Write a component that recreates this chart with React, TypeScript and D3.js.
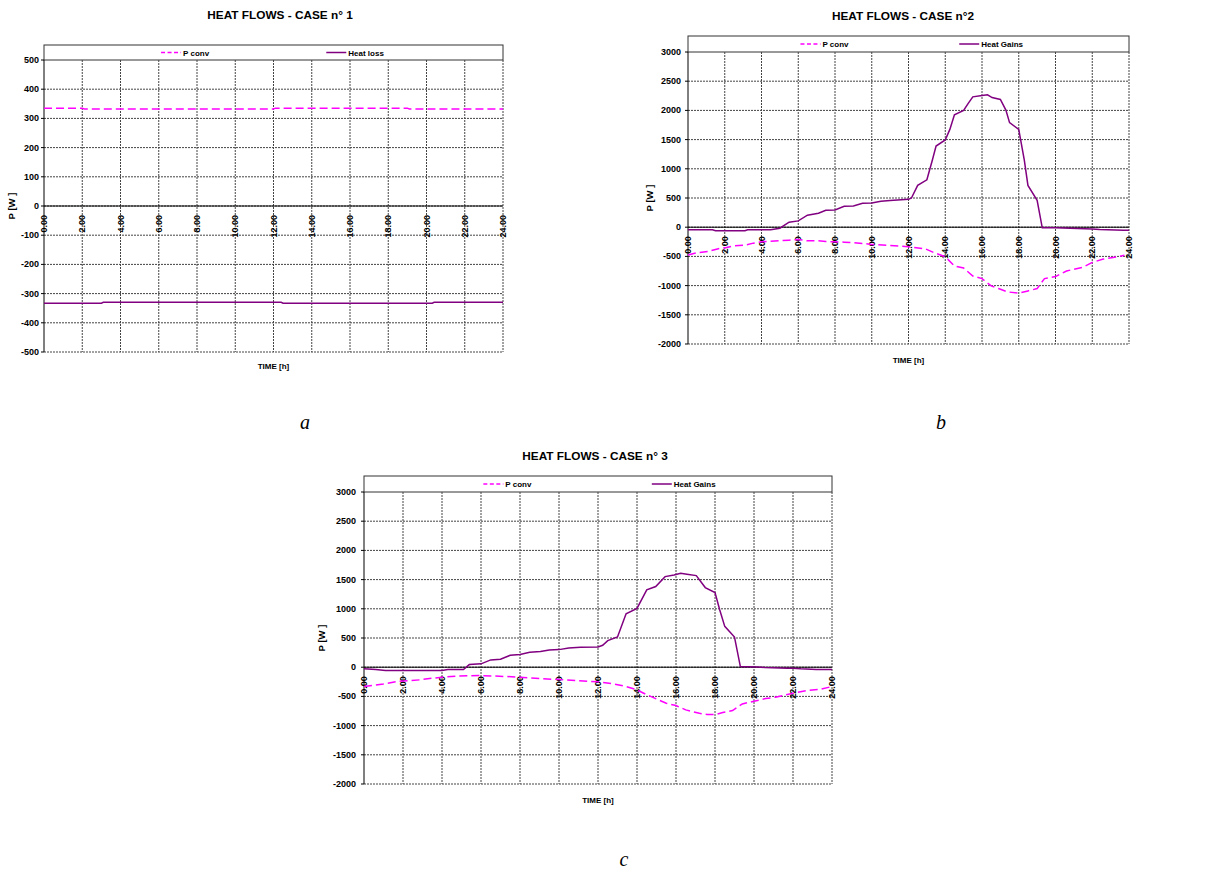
import React from "react";
import * as d3 from "d3";

// ---------- DATA ----------
const xTickHours = [0, 2, 4, 6, 8, 10, 12, 14, 16, 18, 20, 22, 24];

// Case 1
const caseA_pconvHours = [0, 2.0, 2.1, 12.0, 12.1, 19.0, 19.1, 24];
const caseA_pconv = [335, 335, 332, 332, 335, 335, 332, 332];
const caseA_lossHours = [0, 3.0, 3.1, 12.4, 12.5, 20.3, 20.4, 24];
const caseA_loss = [-333, -333, -330, -330, -333, -333, -330, -330];
const caseA_yTicks = [-500, -400, -300, -200, -100, 0, 100, 200, 300, 400, 500];

// Case 2
const caseB_gainsHours = [0, 1.33, 1.5, 3.1, 3.25, 4.5, 5, 5.5, 6, 6.5, 7.1, 7.5, 8, 8.5, 9, 9.5, 10, 10.5, 11, 12, 12.16, 12.5, 13, 13.3, 13.5, 14, 14.25, 14.5, 15, 15.25, 15.5, 16, 16.3, 16.55, 17, 17.3, 17.5, 18, 18.3, 18.5, 19, 19.28, 20, 21.2, 22, 22.4, 23.7, 24];
const caseB_gains = [-45, -45, -62, -62, -45, -45, -17, 85, 108, 205, 239, 290, 295, 358, 364, 409, 415, 443, 456, 477, 500, 716, 812, 1150, 1390, 1494, 1675, 1925, 2000, 2120, 2232, 2255, 2266, 2220, 2187, 2005, 1790, 1675, 1153, 716, 460, -10, -11, -23, -29, -40, -52, -52];
const caseB_pconvHours = [0, 0.5, 1.1, 1.65, 2.1, 2.5, 3.1, 3.55, 4, 4.5, 5, 5.5, 6, 6.5, 7.1, 7.5, 8, 8.5, 9, 9.5, 10, 10.9, 12, 12.9, 13.4, 14, 14.5, 15, 15.5, 16, 16.5, 16.9, 17.4, 18, 18.5, 19, 19.4, 20, 20.6, 21, 21.5, 22, 22.6, 23.3, 23.75];
const caseB_pconv = [-477, -437, -415, -369, -347, -318, -307, -273, -250, -239, -233, -222, -210, -233, -233, -244, -250, -256, -267, -278, -295, -312, -335, -369, -437, -506, -665, -699, -835, -880, -1005, -1051, -1108, -1130, -1091, -1051, -880, -846, -750, -721, -684, -603, -546, -511, -480];

// Case 3
const caseC_gainsHours = [0, 0.6, 1.1, 4, 4.3, 5.1, 5.4, 6, 6.5, 7, 7.5, 8, 8.5, 9.05, 9.5, 10, 10.5, 11.1, 12, 12.24, 12.5, 13, 13.44, 14, 14.5, 14.96, 15.44, 15.9, 16.24, 16.56, 17.04, 17.5, 18, 18.24, 18.5, 19, 19.3, 20.2, 20.56, 21.7, 22, 22.4, 23.2, 24];
const caseC_gains = [-28, -40, -57, -57, -40, -40, 45, 57, 125, 136, 205, 216, 256, 267, 295, 301, 330, 340, 347, 375, 455, 517, 915, 1006, 1324, 1381, 1551, 1580, 1608, 1591, 1568, 1364, 1278, 983, 699, 517, 10, 5, -6, -17, -17, -28, -40, -40];
const caseC_pconvHours = [0, 1, 1.8, 2.85, 3.5, 4, 4.9, 6, 6.95, 8, 9, 10, 10.9, 12, 12.8, 13.45, 14, 14.56, 15.5, 16, 16.5, 17.2, 17.6, 18, 18.4, 18.9, 19.4, 20, 20.6, 21.1, 22, 22.7, 23.4, 24];
const caseC_pconv = [-331, -286, -240, -217, -189, -171, -149, -143, -154, -171, -194, -211, -229, -251, -286, -331, -389, -480, -617, -657, -731, -789, -811, -811, -777, -743, -629, -583, -537, -514, -446, -400, -377, -331];
const caseBC_yTicks = [-2000, -1500, -1000, -500, 0, 500, 1000, 1500, 2000, 2500, 3000];

// ---------- STYLE / LAYOUT ----------
const FONT = "'Liberation Sans', Arial, Helvetica, sans-serif";
const MAGENTA = "#ff00ff";
const PURPLE = "#800080";

type Series = { hours: number[]; values: number[] };

type ChartProps = {
  left: number; right: number; top: number; bottom: number;
  legendH: number;
  yDomain: [number, number];
  yTicks: number[];
  title: string; titleX: number; titleY: number;
  yLabelX: number; xLabelY: number; yTickGap: number;
  pconv: Series; other: Series; otherLabel: string;
};

function Chart(p: ChartProps) {
  const x = d3.scaleLinear().domain([0, 24]).range([p.left, p.right]);
  const y = d3.scaleLinear().domain(p.yDomain).range([p.bottom, p.top]);
  const line = d3.line<[number, number]>().x(d => x(d[0])).y(d => y(d[1]));
  const pts = (s: Series) => s.hours.map((h, i) => [h, s.values[i]] as [number, number]);
  const w = p.right - p.left;
  const y0 = y(0);
  const lx1 = p.left + w * 0.255;
  const lx2 = p.left + w * 0.615;
  const ly = p.top - p.legendH / 2;
  return (
    <g>
      <text x={p.titleX} y={p.titleY} textAnchor="middle" fontFamily={FONT} fontWeight="bold" fontSize={11.8}>{p.title}</text>
      {/* legend */}
      <rect x={p.left} y={p.top - p.legendH} width={w} height={p.legendH} fill="#fff" stroke="#333" strokeWidth={1} />
      <line x1={lx1} x2={lx1 + 20} y1={ly} y2={ly} stroke={MAGENTA} strokeWidth={1.5} strokeDasharray="4,2.5" />
      <text x={lx1 + 22} y={ly + 3} fontFamily={FONT} fontWeight="bold" fontSize={8}>P conv</text>
      <line x1={lx2} x2={lx2 + 20} y1={ly} y2={ly} stroke={PURPLE} strokeWidth={1.5} />
      <text x={lx2 + 22} y={ly + 3} fontFamily={FONT} fontWeight="bold" fontSize={8}>{p.otherLabel}</text>
      {/* grid */}
      {p.yTicks.filter(t => t !== p.yDomain[1]).map(t => (
        <line key={"h" + t} x1={p.left} x2={p.right} y1={y(t)} y2={y(t)} stroke="#444" strokeWidth={1} strokeDasharray="2,1" />
      ))}
      {xTickHours.filter(h => h !== 0).map(h => (
        <line key={"v" + h} x1={x(h)} x2={x(h)} y1={p.top} y2={p.bottom} stroke="#444" strokeWidth={1} strokeDasharray="2,1" />
      ))}
      {/* axes */}
      <line x1={p.left} x2={p.left} y1={p.top} y2={p.bottom} stroke="#000" strokeWidth={1} />
      <line x1={p.left} x2={p.right} y1={y0} y2={y0} stroke="#000" strokeWidth={1} />
      {p.yTicks.map(t => (
        <g key={"yt" + t}>
          <line x1={p.left - 3} x2={p.left} y1={y(t)} y2={y(t)} stroke="#000" />
          <text x={p.left - p.yTickGap} y={y(t) + 3} textAnchor="end" fontFamily={FONT} fontWeight="bold" fontSize={9}>{t}</text>
        </g>
      ))}
      {xTickHours.map(h => (
        <text key={"xt" + h} transform={`translate(${x(h) + 3.2},${y0 + 9}) rotate(-90)`} textAnchor="end" fontFamily={FONT} fontWeight="bold" fontSize={9}>{h.toFixed(2)}</text>
      ))}
      <text transform={`translate(${p.yLabelX + 3},${(p.top + p.bottom) / 2}) rotate(-90)`} textAnchor="middle" fontFamily={FONT} fontWeight="bold" fontSize={9.5}>P [W ]</text>
      <text x={(p.left + p.right) / 2} y={p.xLabelY} textAnchor="middle" fontFamily={FONT} fontWeight="bold" fontSize={8}>TIME [h]</text>
      {/* series */}
      <path d={line(pts(p.other)) || ""} fill="none" stroke={PURPLE} strokeWidth={1.5} />
      <path d={line(pts(p.pconv)) || ""} fill="none" stroke={MAGENTA} strokeWidth={1.5} strokeDasharray="8,4" />
    </g>
  );
}

export default function App() {
  return (
    <svg width={1206} height={870} style={{ position: "absolute", left: 0, top: 0, background: "#fff" }}>
      <rect x={0} y={0} width={1206} height={870} fill="#fff" />
      <Chart left={44} right={503} top={60} bottom={352} legendH={15} yDomain={[-500, 500]} yTicks={caseA_yTicks}
        title="HEAT FLOWS - CASE n° 1" titleX={280} titleY={19} yLabelX={12} xLabelY={369} yTickGap={5}
        pconv={{ hours: caseA_pconvHours, values: caseA_pconv }} other={{ hours: caseA_lossHours, values: caseA_loss }} otherLabel="Heat loss" />
      <Chart left={688} right={1129} top={52} bottom={344} legendH={16} yDomain={[-2000, 3000]} yTicks={caseBC_yTicks}
        title="HEAT FLOWS - CASE n°2" titleX={903} titleY={20} yLabelX={650} xLabelY={363} yTickGap={7}
        pconv={{ hours: caseB_pconvHours, values: caseB_pconv }} other={{ hours: caseB_gainsHours, values: caseB_gains }} otherLabel="Heat Gains" />
      <Chart left={364} right={832} top={492} bottom={784} legendH={16} yDomain={[-2000, 3000]} yTicks={caseBC_yTicks}
        title="HEAT FLOWS - CASE n° 3" titleX={595} titleY={460} yLabelX={322} xLabelY={803} yTickGap={8}
        pconv={{ hours: caseC_pconvHours, values: caseC_pconv }} other={{ hours: caseC_gainsHours, values: caseC_gains }} otherLabel="Heat Gains" />
      <text x={305} y={429} textAnchor="middle" fontFamily="'Liberation Serif', 'Times New Roman', serif" fontStyle="italic" fontSize={20}>a</text>
      <text x={941} y={429} textAnchor="middle" fontFamily="'Liberation Serif', 'Times New Roman', serif" fontStyle="italic" fontSize={20}>b</text>
      <text x={624} y={866} textAnchor="middle" fontFamily="'Liberation Serif', 'Times New Roman', serif" fontStyle="italic" fontSize={20}>c</text>
    </svg>
  );
}
